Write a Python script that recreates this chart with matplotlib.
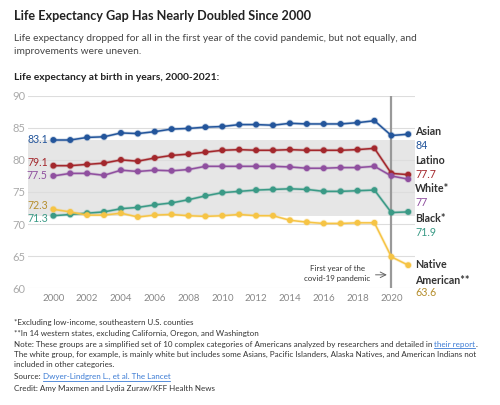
import matplotlib
matplotlib.use("Agg")
import matplotlib.pyplot as plt
import matplotlib.patheffects as pe

plt.rcParams['font.family'] = ['Lato', 'DejaVu Sans']

years = list(range(2000, 2022))
asian = [83.1, 83.1, 83.5, 83.6, 84.2, 84.1, 84.4, 84.8, 84.9, 85.1, 85.2, 85.5,
         85.5, 85.4, 85.7, 85.6, 85.6, 85.6, 85.8, 86.1, 83.8, 84.0]
latino = [79.1, 79.1, 79.3, 79.5, 80.0, 79.8, 80.3, 80.7, 80.9, 81.2, 81.5, 81.6,
          81.5, 81.5, 81.6, 81.5, 81.5, 81.5, 81.6, 81.8, 77.9, 77.7]
white = [77.5, 77.9, 77.9, 77.6, 78.4, 78.2, 78.4, 78.3, 78.5, 79.0, 79.0, 79.0,
         79.0, 79.0, 78.9, 78.7, 78.7, 78.8, 78.8, 79.0, 77.5, 77.0]
black = [71.3, 71.5, 71.7, 71.9, 72.4, 72.6, 73.0, 73.3, 73.8, 74.4, 74.9, 75.1,
         75.3, 75.4, 75.5, 75.4, 75.1, 75.1, 75.2, 75.3, 71.8, 71.9]
native = [72.3, 71.9, 71.4, 71.4, 71.7, 71.1, 71.4, 71.5, 71.3, 71.2, 71.3, 71.5,
          71.3, 71.3, 70.6, 70.3, 70.1, 70.1, 70.2, 70.2, 64.9, 63.6]

names = ["Asian", "Latino", "White*", "Black*", "Native\nAmerican**"]
series = [asian, latino, white, black, native]
end_labels = ["84", "77.7", "77", "71.9", "63.6"]
start_labels = ["83.1", "79.1", "77.5", "71.3", "72.3"]
line_colors = ["#23559b", "#a3272c", "#8f4f9f", "#3a9a86", "#f6c445"]
text_colors = ["#23559b", "#a3272c", "#8f4f9f", "#3a9a86", "#b58e2c"]
yticks = [60, 65, 70, 75, 80, 85, 90]
xticks = list(range(2000, 2021, 2))

W, H = 500, 405
fig = plt.figure(figsize=(W / 100, H / 100), dpi=100)

def fx(x):
    return x / W

def fy(y):
    return 1 - y / H

left, right, top, bottom = 28, 415, 95.7, 288.3
ax = fig.add_axes([fx(left), fy(bottom), fx(right - left), (bottom - top) / H])
ax.set_xlim(1998.5, 2021.4)
ax.set_ylim(60, 90)
for s in ax.spines.values():
    s.set_visible(False)
ax.set_yticks(yticks)
ax.set_xticks(xticks)
ax.tick_params(axis='y', length=0, pad=2, labelsize=8, labelcolor="#aaaaaa")
ax.tick_params(axis='x', length=0, pad=4, labelsize=7, labelcolor="#888888")
ax.grid(axis='y', color="#dddddd", linewidth=0.8)
ax.set_axisbelow(True)

# grey band between start values of Asian and Black
ax.axhspan(black[0], asian[0], color="#e6e6e6", zorder=0.5, lw=0)

ax.axvline(2020, color="#999999", linewidth=1.6, zorder=1)

for vals, lc in zip(series, line_colors):
    ax.plot(years, vals, color=lc, lw=1.1, marker='o', ms=3.2, zorder=3,
            path_effects=[pe.Stroke(linewidth=2.2, foreground=lc, alpha=0.25), pe.Normal()])

# start labels
offsets = [0, 2, 0, -2, 3]
for vals, lab, tc, off in zip(series, start_labels, text_colors, offsets):
    ax.annotate(lab, (years[0], vals[0]), xytext=(-4, off), textcoords='offset points',
                ha='right', va='center', color=tc, fontsize=7.6)

# annotation
ax.annotate("", xy=(2019.9, 62.1), xytext=(2018.9, 62.1),
            arrowprops=dict(arrowstyle='->', color="#666666", lw=0.7))
fig.text(fx(337), fy(273.5), "First year of the\ncovid-19 pandemic", ha='center', va='center',
         fontsize=5.7, color="#333333", linespacing=1.4)

# right labels
name_y = [131.7, 160.7, 189, 218, 272.5]
val_y = [145.5, 174.5, 203, 232, 292.5]
for n, v, tc, ny, vy in zip(names, end_labels, text_colors, name_y, val_y):
    fig.text(fx(415), fy(ny), n, ha='left', va='center', fontsize=7.7, fontweight='bold',
             color="#333333", linespacing=1.45)
    fig.text(fx(415), fy(vy), v, ha='left', va='center', fontsize=7.7, color=tc)

# titles
fig.text(fx(14), fy(16.5), "Life Expectancy Gap Has Nearly Doubled Since 2000",
         ha='left', va='center', fontsize=9.1, fontweight='bold', color="#222222")
fig.text(fx(14), fy(45), "Life expectancy dropped for all in the first year of the covid pandemic, but not equally, and\nimprovements were uneven.",
         ha='left', va='center', fontsize=7.25, color="#444444", linespacing=1.5)
fig.text(fx(14), fy(77), "Life expectancy at birth in years, 2000-2021:",
         ha='left', va='center', fontsize=7.4, fontweight='bold', color="#222222")

# footnotes
renderer = fig.canvas.get_renderer()
link_color = "#3b7bd4"
foot_fs = 5.75
foot_lines = [
    [("*Excluding low-income, southeastern U.S. counties", False)],
    [("**In 14 western states, excluding California, Oregon, and Washington", False)],
    [("Note: These groups are a simplified set of 10 complex categories of Americans analyzed by researchers and detailed in ", False),
     ("their report", True), (".", False)],
    [("The white group, for example, is mainly white but includes some Asians, Pacific Islanders, Alaska Natives, and American Indians not", False)],
    [("included in other categories.", False)],
    [("Source: ", False), ("Dwyer-Lindgren L., et al. The Lancet", True)],
    [("Credit: Amy Maxmen and Lydia Zuraw/KFF Health News", False)],
]
foot_y = [322.7, 333.5, 344.2, 354.5, 365, 376.7, 388.7]
for segs, yy in zip(foot_lines, foot_y):
    x = 14
    for txt, link in segs:
        t = fig.text(fx(x), fy(yy), txt, ha='left', va='center', fontsize=foot_fs,
                     color=link_color if link else "#333333")
        bb = t.get_window_extent(renderer)
        if link:
            fig.add_artist(plt.Line2D([fx(x), fx(x + bb.width)], [fy(yy + 4.2), fy(yy + 4.2)],
                                      color=link_color, lw=0.6))
        x += bb.width

fig.savefig("out.png", dpi=100)
